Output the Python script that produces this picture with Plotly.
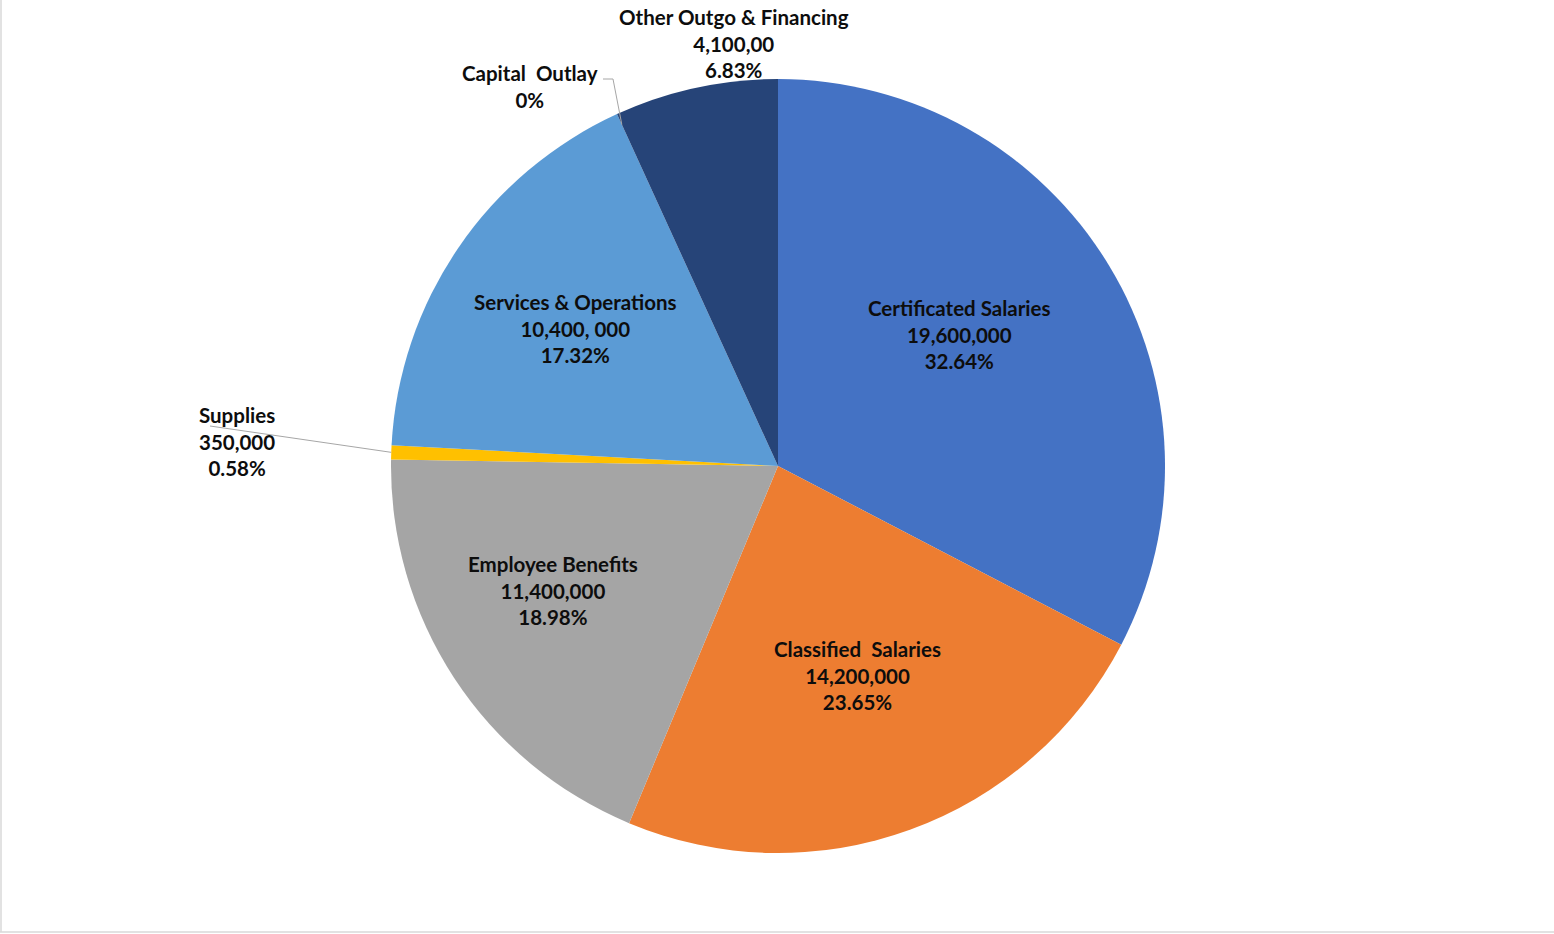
import math
import plotly.graph_objects as go

# ---- data ----
categories = ["Certificated Salaries", "Classified  Salaries", "Employee Benefits", "Supplies",
              "Services & Operations", "Capital  Outlay", "Other Outgo & Financing"]
values = [19600000, 14200000, 11400000, 350000, 10400000, 0, 4100000]
value_labels = ["19,600,000", "14,200,000", "11,400,000", "350,000", "10,400, 000", "", "4,100,00"]
pct_labels = ["32.64%", "23.65%", "18.98%", "0.58%", "17.32%", "0%", "6.83%"]
colors = ["#4472C4", "#ED7D31", "#A5A5A5", "#FFC000", "#5B9BD5", "#70AD47", "#264478"]

# layout constants (pixels)
W, H = 1554, 934
CX, CY, R = 778, 466, 387
label_centers = [(959, 334), (857, 675), (553, 590), (237, 441), (575, 328), (530, 86), (734, 43)]

def px(x):
    return x / W

def py(y):
    return 1 - y / H

fig = go.Figure(go.Pie(
    labels=categories, values=values, sort=False, direction="clockwise", rotation=0,
    marker=dict(colors=colors, line=dict(width=0)),
    textinfo="none", hoverinfo="label+value+percent", showlegend=False,
    domain=dict(x=[px(CX - R), px(CX + R)], y=[py(CY + R), py(CY - R)]),
))

total = sum(values)
mids = []
acc = 0
for v in values:
    mids.append((acc + v / 2) / total * 2 * math.pi)
    acc += v

def polar(angle, frac):
    return CX + math.sin(angle) * R * frac, CY - math.cos(angle) * R * frac

font = dict(family="Lato, 'Open Sans', sans-serif", size=20.5, color="#0d0d0d", weight="bold")

def label_text(i):
    parts = [categories[i]]
    if value_labels[i]:
        parts.append(value_labels[i])
    parts.append(pct_labels[i])
    return "<br>".join(parts)

annotations = []
for i, (lx, ly) in enumerate(label_centers):
    annotations.append(dict(x=px(lx), y=py(ly), xref="paper", yref="paper", text=label_text(i),
                            showarrow=False, font=font, xanchor="center", yanchor="middle"))

shapes = []
# leader line for Supplies
sx, sy = polar(mids[3], 1.0)
shapes.append(dict(type="line", xref="paper", yref="paper", x0=px(210), y0=py(426),
                   x1=px(sx), y1=py(sy), line=dict(color="#A6A6A6", width=1)))
# elbow leader for Capital Outlay
cx_, cy_ = polar(mids[5], 0.97)
shapes.append(dict(type="path", xref="paper", yref="paper",
                   path=f"M {px(603)} {py(79)} L {px(613)} {py(79)} L {px(cx_)} {py(cy_)}",
                   line=dict(color="#A6A6A6", width=1)))
# faint chart border (left and bottom)
shapes.append(dict(type="line", xref="paper", yref="paper", x0=px(1), y0=py(0), x1=px(1), y1=py(932),
                   line=dict(color="#D9D9D9", width=1.5)))
shapes.append(dict(type="line", xref="paper", yref="paper", x0=px(0), y0=py(932), x1=px(1554), y1=py(932),
                   line=dict(color="#D9D9D9", width=1.5)))

fig.update_layout(width=W, height=H, margin=dict(l=0, r=0, t=0, b=0),
                  paper_bgcolor="white", plot_bgcolor="white",
                  annotations=annotations, shapes=shapes)

fig.write_html("out.html", config={"displayModeBar": False},
               post_script="document.body.style.margin='0';document.body.style.overflow='hidden';")
